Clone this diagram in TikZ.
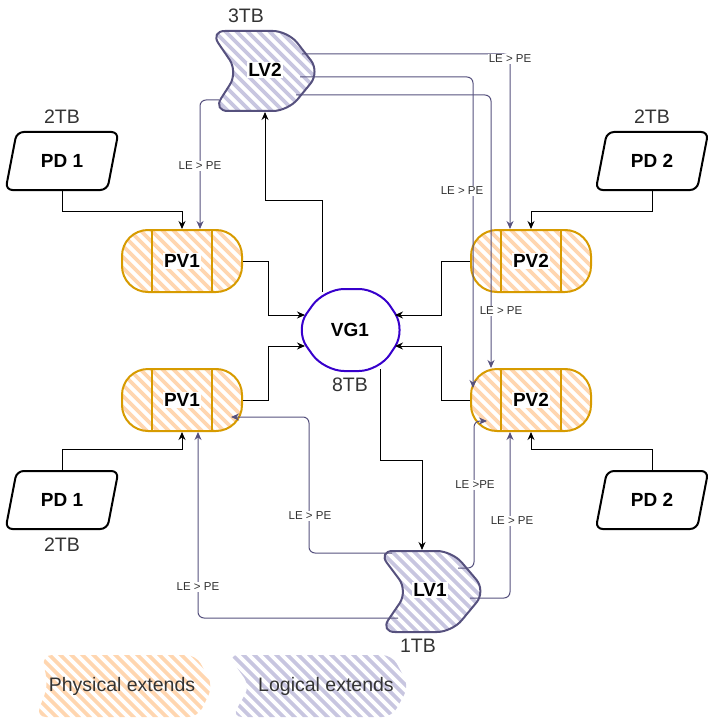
\documentclass[tikz,border=0pt]{standalone}
\usepackage{fontspec}
\setmainfont{Liberation Sans}
\usepackage{tikz}
\usetikzlibrary{arrows.meta,shapes.geometric}
\definecolor{pvline}{RGB}{215,155,0}
\definecolor{pvhatch}{RGB}{255,214,176}
\definecolor{lvline}{RGB}{86,81,126}
\definecolor{lvhatch}{RGB}{200,198,224}
\definecolor{vgline}{RGB}{55,0,204}
\definecolor{textgray}{RGB}{51,51,51}

% diagonal stripes inside a path picture
\newcommand{\stripes}[1]{%
  \foreach \k in {-14,...,14}
    \draw[#1, line width=3.6pt] ([shift={(\k*11-90,-90)}]path picture bounding box.center) -- ++(180,180);}

\begin{document}
\begin{tikzpicture}[x=1pt, y=-1pt,
  pv/.style={draw=pvline, line width=2pt, rounded corners=26pt, minimum width=120pt, minimum height=62pt,
    path picture={\stripes{pvhatch}
      \draw[pvline, line width=2pt] ([xshift=-30pt]path picture bounding box.north) -- ([xshift=-30pt]path picture bounding box.south);
      \draw[pvline, line width=2pt] ([xshift=30pt]path picture bounding box.north) -- ([xshift=30pt]path picture bounding box.south);}},
  pd/.style={trapezium, trapezium left angle=73, trapezium right angle=107, trapezium stretches,
    draw, line width=2pt, rounded corners=7pt, minimum width=113pt, minimum height=58pt,
    font=\bfseries\fontsize{19}{22}\selectfont},
  lvshape/.style={draw=lvline, line width=2pt, rounded corners=15pt, path picture={\stripes{lvhatch}}},
  vgshape/.style={draw=vgline, line width=2pt, rounded corners=20pt},
  tag/.style={fill=white, inner sep=1pt, font=\bfseries\fontsize{19}{22}\selectfont},
  sizetxt/.style={inner sep=1pt, text=textgray, font=\fontsize{19.5}{23}\selectfont},
  letxt/.style={fill=white, inner sep=1pt, text=textgray, font=\fontsize{11.5}{13}\selectfont},
  link/.style={draw=black, line width=1pt, -{Stealth[length=8pt,width=7pt]}},
  le/.style={draw=lvline, line width=1pt, rounded corners=6pt, -{Stealth[length=8pt,width=7pt]}}]
  \useasboundingbox (0,0) rectangle (712,722);

  % Logical volumes
  \draw[lvshape] (210,31) -- (288,31) -- (320,72) -- (288,111) -- (213,111) -- (238,72) -- cycle;
  \node[tag] (lv2) at (265,70) {LV2};
  \node[sizetxt] (lv2size) at (246,16) {3TB};
  \draw[lvshape] (378,551) -- (452,551) -- (486,591) -- (452,632) -- (380,632) -- (408,591) -- cycle;
  \node[tag] (lv1) at (430,590) {LV1};
  \node[sizetxt] (lv1size) at (418,646) {1TB};

  % Volume group
  \draw[vgshape] (295,330) -- (324,289) -- (379,289) -- (406,330) -- (379,371) -- (324,371) -- cycle;
  \node[font=\bfseries\fontsize{19}{22}\selectfont] (vg1) at (350,330) {VG1};
  \node[sizetxt] (vg1size) at (350,385) {8TB};

  % Physical volumes
  \node[pv] (pv1a) at (182,261) {};
  \node[pv] (pv1b) at (182,400) {};
  \node[pv] (pv2a) at (531,261) {};
  \node[pv] (pv2b) at (531,400) {};
  \node[tag] (pv1atag) at (pv1a) {PV1};
  \node[tag] (pv1btag) at (pv1b) {PV1};
  \node[tag] (pv2atag) at (pv2a) {PV2};
  \node[tag] (pv2btag) at (pv2b) {PV2};

  % Physical disks
  \node[pd] (pd1a) at (62,161) {PD 1};
  \node[sizetxt] (pd1asize) at (62,117) {2TB};
  \node[pd] (pd2a) at (652,161) {PD 2};
  \node[sizetxt] (pd2asize) at (652,117) {2TB};
  \node[pd] (pd1b) at (62,500) {PD 1};
  \node[sizetxt] (pd1bsize) at (62,545) {2TB};
  \node[pd] (pd2b) at (652,500) {PD 2};

  % ports on the drawn shapes
  \coordinate (lv2w) at (219,100);
  \coordinate (lv2e1) at (302,54);
  \coordinate (lv2e2) at (300,77);
  \coordinate (lv2e3) at (296,95);
  \coordinate (lv2s) at (265,112);
  \coordinate (lv1n) at (422,550);
  \coordinate (lv1nw) at (392,553);
  \coordinate (lv1sw) at (398,618);
  \coordinate (lv1e1) at (458,568);
  \coordinate (lv1e2) at (470,598);
  \coordinate (vg1n) at (322,292);
  \coordinate (vg1s) at (380,369);
  \coordinate (vg1wn) at (305,315);
  \coordinate (vg1ws) at (305,346);
  \coordinate (vg1en) at (395,315);
  \coordinate (vg1es) at (395,346);

  % disks into volumes
  \draw[link] (pd1a.south) -- ++(0,20) -| (pv1a.north);
  \draw[link] (pd2a.south) -- ++(0,20) -| (pv2a.north);
  \draw[link] (pd1b.north) -- ++(0,-20) -| (pv1b.south);
  \draw[link] (pd2b.north) -- ++(0,-20) -| (pv2b.south);

  % volumes into the group
  \draw[link] (pv1a.east) -- ++(25,0) |- (vg1wn);
  \draw[link] (pv1b.east) -- ++(25,0) |- (vg1ws);
  \draw[link] (pv2a.west) -- ++(-29,0) |- (vg1en);
  \draw[link] (pv2b.west) -- ++(-29,0) |- (vg1es);
  \draw[link] (vg1n) -- ++(0,-92) -| (lv2s);
  \draw[link] (vg1s) -- ++(0,91) -| (lv1n);

  % extents
  \draw[le] (lv2w) -| ([xshift=18pt]pv1a.north);
  \draw[le] (lv2e1) -| ([xshift=-21pt]pv2a.north);
  \draw[le] (lv2e2) -| ([xshift=3pt,yshift=12pt]pv2b.west);
  \draw[le] (lv2e3) -| ([xshift=-40pt]pv2b.north);
  \draw[le] (lv1nw) -- ++(-83,0) |- ([xshift=-12pt,yshift=-17pt]pv1b.east);
  \draw[le] (lv1sw) -| ([xshift=16pt]pv1b.south);
  \draw[le] (lv1e1) -- ++(16,0) |- ([xshift=17pt,yshift=-21pt]pv2b.west);
  \draw[le] (lv1e2) -| ([xshift=-21pt]pv2b.south);
  \node[letxt] (le1) at (200,166) {LE > PE};
  \node[letxt] (le2) at (510,59) {LE > PE};
  \node[letxt] (le3) at (462,191) {LE > PE};
  \node[letxt] (le4) at (501,311) {LE > PE};
  \node[letxt] (le5) at (310,516) {LE > PE};
  \node[letxt] (le6) at (198,587) {LE > PE};
  \node[letxt] (le7) at (475,485) {LE >PE};
  \node[letxt] (le8) at (512,521) {LE > PE};

  % Legend
  \path[rounded corners=10pt, path picture={\stripes{pvhatch}}] (42,655) -- (196,655) -- (213,686) -- (198,717) -- (36,717) -- (48,686) -- cycle;
  \node[sizetxt] (legpv) at (122,686) {Physical extends};
  \path[rounded corners=10pt, path picture={\stripes{lvhatch}}] (228,655) -- (392,655) -- (409,686) -- (392,717) -- (232,717) -- (250,686) -- cycle;
  \node[sizetxt] (leglv) at (326,686) {Logical extends};
\end{tikzpicture}
\end{document}
